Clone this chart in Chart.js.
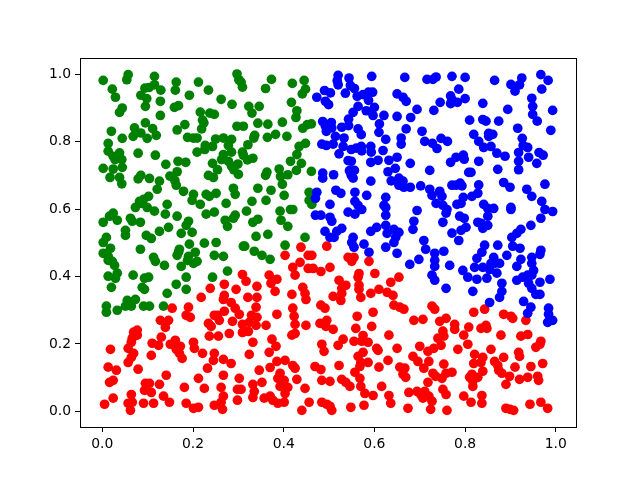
<!DOCTYPE html>
<html>
<head>
<meta charset="utf-8">
<script src="https://cdn.jsdelivr.net/npm/chart.js@4"></script>
<style>
html, body { margin: 0; padding: 0; background: #fff; }
canvas { display: block; }
</style>
</head>
<body>
<canvas id="scatterChart" width="640" height="480"></canvas>
<script>
const tickValues = [0, 0.2, 0.4, 0.6, 0.8, 1.0];

// values, the read-off was a hair out against the ticks
const readOffsetX = -0.002;
const readOffsetY = 0.001;

const greenPoints = [
[.004,.981],[.059,.998],[.056,.983],[.117,.993],[.024,.955],[.031,.931],[.165,.976],[.163,.952],[.214,.976],[.236,.952],
[.299,1.0],[.303,.983],[.308,.976],[.311,.961],[.117,.968],[.096,.958],[.105,.960],[.131,.952],[.087,.937],[.100,.927],
[.130,.919],[.097,.904],[.194,.937],[.264,.925],[.288,.910],[.046,.899],[.040,.886],[.170,.906],[.161,.901],[.130,.877],
[.218,.887],[.239,.884],[.249,.880],[.223,.863],[.226,.855],[.221,.837],[.097,.855],[.073,.840],[.113,.838],[.087,.825],
[.070,.815],[.121,.818],[.101,.809],[.022,.830],[.046,.809],[.015,.794],[.184,.850],[.167,.834],[.190,.812],[.203,.810],
[.211,.810],[.299,.845],[.313,.845],[.252,.807],[.269,.810],[.287,.806],[.280,.788],[.229,.788],[.245,.785],[.228,.776],
[.211,.768],[.015,.771],[.026,.756],[.040,.766],[.045,.746],[.030,.746],[.081,.765],[.119,.759],[.169,.741],[.186,.738],
[.142,.732],[.004,.720],[.026,.718],[.046,.723],[.269,.761],[.287,.768],[.311,.768],[.313,.759],[.265,.746],[.245,.735],
[.256,.716],[.280,.741],[.287,.726],[.301,.733],[.292,.716],[.302,.702],[.236,.699],[.247,.693],[.167,.710],[.151,.697],
[.162,.684],[.019,.693],[.040,.693],[.087,.699],[.081,.689],[.106,.690],[.128,.682],
[.375,.984],[.362,.957],[.421,.972],[.447,.981],[.450,.955],[.443,.941],[.419,.916],[.431,.891],[.429,.871],[.348,.904],
[.325,.904],[.332,.884],[.345,.854],[.367,.851],[.399,.857],[.463,.852],[.454,.850],[.444,.839],[.384,.821],[.366,.812],
[.409,.815],[.338,.818],[.336,.810],[.450,.794],[.436,.785],[.431,.761],[.323,.790],[.334,.750],[.322,.745],[.417,.741],
[.441,.735],[.430,.714],[.463,.711],[.392,.718],[.411,.701],[.365,.709],[.362,.699],[.395,.696],
[.345,.661],[.374,.655],[.399,.673],[.403,.640],[.332,.622],[.363,.625],[.458,.649],[.458,.625],[.464,.613],[.320,.593],
[.394,.593],[.417,.598],[.422,.598],[.396,.566],[.411,.548],[.345,.569],[.334,.560],[.341,.518],[.367,.524],[.405,.492],
[.449,.515],[.337,.474],[.354,.462],[.372,.450],[.316,.489],
[.045,.674],[.123,.658],[.165,.670],[.181,.652],[.203,.643],[.200,.625],[.218,.613],[.231,.643],[.238,.637],[.253,.646],
[.275,.616],[.291,.661],[.295,.643],[.104,.637],[.093,.628],[.084,.622],[.075,.604],[.089,.616],[.101,.604],[.117,.593],
[.145,.613],[.141,.584],[.167,.578],[.231,.584],[.249,.590],[.295,.581],[.291,.572],[.273,.566],[.278,.548],[.026,.587],
[.018,.578],[.035,.566],[.004,.560],[.064,.572],[.068,.563],[.086,.560],[.192,.563],[.187,.551],[.200,.530],[.176,.527],
[.053,.536],[.053,.521],[.011,.515],[.004,.500],[.099,.521],[.110,.512],[.128,.533],[.148,.545],[.194,.495],[.227,.498],
[.253,.500],[.313,.489],[.020,.483],[.004,.468],[.015,.459],[.015,.447],[.024,.444],[.029,.432],[.086,.480],[.172,.480],
[.170,.471],[.167,.462],[.207,.471],[.192,.459],[.190,.447],[.203,.438],[.211,.444],[.115,.456],[.119,.444],[.139,.432],
[.176,.429],[.249,.462],[.269,.459],[.278,.415],[.035,.409],[.015,.400],[.031,.394],[.070,.403],[.104,.397],[.095,.394],
[.187,.397],[.245,.397],[.022,.367],[.165,.376],[.090,.367],[.095,.361],[.187,.361],[.145,.349],[.057,.328],[.075,.331],
[.011,.311],[.011,.293],[.035,.299],[.053,.311],[.066,.311],[.093,.311],[.106,.311],[.137,.311]
];

const bluePoints = [
[.522,.996],[.520,.980],[.522,.968],[.546,.988],[.596,.993],[.669,.990],[.549,.966],[.558,.957],[.492,.951],[.505,.944],
[.475,.931],[.494,.919],[.501,.909],[.538,.943],[.564,.934],[.577,.939],[.589,.946],[.598,.946],[.589,.922],[.652,.941],
[.665,.931],[.672,.919],[.566,.904],[.555,.886],[.584,.891],[.602,.901],[.599,.877],[.623,.877],[.652,.874],[.545,.866],
[.488,.859],[.507,.856],[.494,.845],[.508,.840],[.496,.830],[.530,.842],[.545,.847],[.566,.837],[.573,.820],[.613,.852],
[.612,.827],[.672,.837],[.627,.806],[.661,.810],[.661,.792],[.516,.815],[.535,.810],[.486,.792],[.496,.788],[.511,.792],
[.533,.785],[.551,.776],[.562,.780],[.573,.785],[.574,.772],[.594,.785],[.595,.768],[.621,.773],[.524,.763],[.544,.743],
[.551,.741],[.594,.738],[.610,.744],[.634,.744],[.652,.753],[.648,.720],[.632,.710],[.547,.713],[.558,.714],[.551,.699],
[.555,.691],[.488,.706],[.488,.691],[.512,.701],[.594,.682],[.639,.683],[.656,.691],[.665,.682],
[.718,.984],[.731,.984],[.738,.991],[.773,.993],[.802,.990],[.788,.955],[.867,.981],[.903,.969],[.927,.988],[.922,.968],
[.912,.949],[.969,.998],[.985,.981],[.971,.955],[.770,.935],[.773,.924],[.770,.912],[.785,.916],[.802,.927],[.747,.916],
[.733,.892],[.696,.895],[.682,.871],[.841,.913],[.896,.895],[.949,.928],[.951,.904],[.951,.880],[.961,.860],[.995,.892],
[.812,.863],[.841,.865],[.848,.860],[.876,.860],[.918,.839],[.991,.833],[.707,.830],[.713,.800],[.730,.794],[.740,.779],
[.749,.809],[.763,.800],[.821,.821],[.832,.800],[.843,.782],[.854,.824],[.854,.815],[.863,.821],[.859,.785],[.872,.765],
[.890,.756],[.928,.809],[.930,.788],[.940,.782],[.920,.767],[.920,.741],[.920,.716],[.942,.753],[.965,.767],[.974,.759],
[.960,.735],[.782,.753],[.798,.759],[.800,.747],[.770,.738],[.832,.741],[.681,.735],[.724,.714],[.810,.708],[.815,.708],
[.874,.717],
[.704,.668],[.681,.664],[.724,.658],[.773,.670],[.782,.670],[.791,.676],[.795,.668],[.832,.671],[.887,.678],[.901,.664],
[.978,.673],[.938,.658],[.949,.637],[.971,.622],[.746,.652],[.751,.637],[.729,.640],[.738,.616],[.753,.610],[.762,.598],
[.760,.587],[.830,.646],[.817,.637],[.798,.634],[.793,.616],[.784,.613],[.843,.613],[.852,.601],[.865,.601],[.852,.578],
[.903,.604],[.903,.598],[.978,.598],[.995,.592],[.969,.572],[.947,.551],[.696,.595],[.689,.563],[.687,.539],[.753,.560],
[.790,.578],[.800,.572],[.804,.545],[.793,.536],[.773,.528],[.788,.506],[.830,.560],[.837,.557],[.841,.542],[.852,.551],
[.925,.539],[.916,.527],[.905,.515],[.907,.489],[.923,.483],[.711,.506],[.715,.480],[.735,.468],[.755,.474],[.735,.447],
[.735,.429],[.700,.450],[.680,.435],[.768,.432],[.845,.492],[.874,.492],[.839,.471],[.828,.453],[.894,.462],[.925,.450],
[.916,.429],[.969,.477],[.967,.465],[.949,.456],[.949,.438],[.865,.456],[.859,.438],[.867,.438],[.878,.438],[.841,.426],
[.823,.426],[.856,.420],[.872,.409],[.797,.417],[.808,.397],[.828,.391],[.850,.394],[.729,.403],[.735,.388],[.760,.364],
[.819,.355],[.883,.379],[.883,.355],[.878,.337],[.856,.322],[.916,.388],[.929,.397],[.940,.403],[.953,.417],[.949,.403],
[.942,.379],[.949,.364],[.958,.346],[.967,.346],[.967,.382],[.989,.391],[.931,.325],[.986,.305],[.986,.287],[.995,.269],
[.984,.263],[.947,.308],[.940,.290],
[.475,.649],[.472,.631],[.517,.655],[.528,.646],[.559,.649],[.585,.640],[.559,.622],[.504,.613],[.566,.610],[.574,.598],
[.544,.590],[.559,.584],[.627,.634],[.623,.610],[.627,.604],[.627,.581],[.472,.581],[.484,.581],[.504,.575],[.508,.563],
[.530,.542],[.519,.533],[.493,.533],[.504,.515],[.513,.515],[.607,.545],[.594,.533],[.627,.551],[.630,.527],[.645,.539],
[.656,.530],[.649,.515],[.645,.500],[.627,.486],[.652,.468],[.555,.515],[.552,.500],[.557,.486],[.579,.495],[.590,.471],
[.656,.670],[.667,.664]
];

const redPoints = [
[.440,.486],[.497,.489],[.405,.462],[.456,.462],[.464,.462],[.438,.441],[.422,.426],[.427,.403],[.456,.423],[.467,.423],
[.484,.414],[.504,.426],[.544,.456],[.557,.456],[.552,.444],[.590,.444],[.603,.408],[.568,.408],[.566,.397],[.656,.397],
[.638,.382],[.524,.388],[.539,.373],[.530,.364],[.568,.373],[.568,.361],[.612,.361],[.594,.349],[.630,.352],[.643,.343],
[.572,.337],[.530,.349],[.511,.340],[.528,.328],[.370,.403],[.387,.391],[.374,.379],[.383,.355],[.343,.370],[.319,.385],
[.323,.337],[.343,.337],[.420,.346],[.444,.367],[.449,.349],[.451,.331],
[.311,.405],[.271,.376],[.240,.364],[.297,.361],[.220,.337],[.271,.343],[.269,.331],[.286,.322],
[.156,.305],[.192,.308],[.187,.284],[.196,.278],[.130,.269],[.148,.269],[.141,.248],[.079,.240],[.071,.234],[.079,.225],
[.068,.216],[.066,.204],[.059,.186],[.071,.171],[.066,.159],[.059,.144],[.020,.183],[.132,.219],[.112,.201],[.126,.195],
[.110,.165],[.152,.198],[.163,.210],[.174,.192],[.165,.183],[.172,.171],[.178,.156],[.203,.204],[.205,.186],[.223,.171],
[.249,.171],[.247,.150],[.269,.153],[.286,.141],[.234,.127],[.015,.130],[.033,.121],[.081,.124],[.143,.106],[.214,.097],
[.269,.106],[.304,.097],[.018,.085],[.026,.091],[.097,.082],[.106,.082],[.128,.079],[.095,.061],[.110,.055],[.183,.070],
[.227,.067],[.264,.070],[.300,.064],[.308,.064],[.066,.049],[.137,.044],[.269,.044],[.026,.038],[.150,.026],[.300,.032],
[.007,.020],[.059,.023],[.068,.026],[.093,.023],[.115,.023],[.187,.023],[.264,.026],[.249,.017],[.064,.002],[.203,.008],
[.214,.011],[.267,.005],[.236,.260],[.242,.251],[.249,.284],[.256,.284],[.260,.269],[.271,.296],[.289,.266],[.295,.305],
[.304,.287],[.311,.257],[.311,.233],[.324,.236],[.282,.230],[.238,.222],[.258,.222],
[.341,.308],[.387,.287],[.422,.305],[.484,.314],[.493,.305],[.645,.314],[.658,.308],[.667,.302],[.331,.284],[.343,.278],
[.326,.263],[.341,.254],[.363,.254],[.425,.281],[.427,.257],[.451,.254],[.427,.230],[.420,.225],[.482,.260],[.497,.269],
[.495,.251],[.511,.242],[.564,.281],[.599,.293],[.596,.251],[.561,.245],[.634,.225],[.334,.204],[.376,.213],[.385,.192],
[.370,.174],[.326,.168],[.486,.198],[.491,.177],[.533,.213],[.522,.195],[.557,.207],[.577,.224],[.574,.207],[.588,.204],
[.577,.174],[.566,.162],[.607,.186],[.610,.180],[.652,.186],[.588,.144],[.572,.144],[.570,.132],[.632,.150],[.612,.130],
[.524,.135],[.387,.147],[.405,.150],[.422,.135],[.372,.129],[.427,.127],[.348,.121],[.471,.132],[.484,.123],[.559,.115],
[.658,.130],[.669,.127],[.665,.109],[.671,.100],[.394,.112],[.389,.097],[.403,.091],[.431,.094],[.530,.094],[.539,.085],
[.548,.073],[.486,.091],[.504,.088],[.570,.097],[.572,.073],[.618,.073],[.354,.085],[.334,.079],[.394,.073],[.411,.070],
[.449,.067],[.337,.058],[.405,.052],[.581,.052],[.599,.046],[.634,.046],[.678,.055],[.334,.040],[.359,.038],[.372,.044],
[.378,.032],[.389,.023],[.403,.026],[.458,.026],[.486,.026],[.497,.020],[.504,.014],[.508,.002],[.579,.017],[.550,.011],
[.638,.023],[.442,.002],[.676,.008],
[.729,.311],[.735,.302],[.821,.293],[.845,.302],[.887,.287],[.903,.281],[.907,.275],[.936,.269],[.689,.269],[.709,.272],
[.746,.266],[.760,.275],[.779,.257],[.779,.242],[.810,.249],[.837,.245],[.848,.254],[.850,.245],[.799,.225],[.881,.225],
[.925,.222],[.940,.227],[.753,.237],[.755,.222],[.742,.216],[.749,.195],[.733,.186],[.720,.177],[.702,.192],[.808,.198],
[.786,.183],[.859,.183],[.969,.207],[.967,.198],[.958,.189],[.823,.168],[.841,.159],[.920,.174],[.922,.162],[.887,.159],
[.687,.162],[.698,.147],[.722,.147],[.711,.127],[.755,.139],[.821,.141],[.837,.144],[.867,.147],[.874,.135],[.876,.121],
[.883,.112],[.912,.130],[.947,.132],[.973,.141],[.841,.118],[.731,.112],[.737,.103],[.751,.097],[.760,.112],[.773,.115],
[.817,.109],[.812,.100],[.830,.100],[.819,.088],[.819,.073],[.900,.103],[.922,.094],[.940,.100],[.962,.103],[.964,.091],
[.892,.079],[.720,.085],[.753,.064],[.760,.049],[.696,.058],[.713,.058],[.704,.049],[.709,.038],[.722,.044],[.729,.029],
[.799,.044],[.839,.046],[.815,.026],[.839,.023],[.945,.020],[.969,.026],[.984,.008],[.892,.008],[.901,.005],[.909,.002],
[.726,.005],[.762,.002]
];

function toXY(points) {
    return points.map(p => ({ x: p[0] + readOffsetX, y: p[1] + readOffsetY }));
}

function makeDataset(points, color) {
    return {
        data: toXY(points),
        backgroundColor: color,
        borderWidth: 0,
        pointRadius: 4.85,
        pointHoverRadius: 4.85
    };
}

// top and right spines, the axes only draw their own side
const frame = {
    id: 'frame',
    afterDraw(chart) {
        const a = chart.chartArea;
        const c = chart.ctx;
        c.save();
        c.strokeStyle = '#000';
        c.lineWidth = 1;
        c.strokeRect(a.left + 0.5, a.top + 0.5, a.right - a.left, a.bottom - a.top);
        c.restore();
    }
};

function setTicks(scale) {
    scale.ticks = tickValues.map(v => ({ value: v }));
}

const tickStyle = {
    color: '#000',
    padding: 4,
    maxRotation: 0,
    font: { family: '"DejaVu Sans"', size: 13.9 },
    callback: v => v.toFixed(1)
};
const gridStyle = {
    drawOnChartArea: false,
    color: '#000',
    tickColor: '#000',
    tickLength: 5,
    tickWidth: 1
};

new Chart(document.getElementById('scatterChart').getContext('2d'), {
    type: 'scatter',
    data: {
        datasets: [
            makeDataset(bluePoints, '#0000ff'),
            makeDataset(redPoints, '#ff0000'),
            makeDataset(greenPoints, '#008000')
        ]
    },
    options: {
        responsive: false,
        devicePixelRatio: 1,
        animation: false,
        layout: { padding: { top: 58, right: 64, left: 0, bottom: 0 } },
        plugins: { legend: { display: false }, tooltip: { enabled: false } },
        scales: {
            x: {
                min: -0.0492,
                max: 1.0445,
                afterBuildTicks: setTicks,
                afterFit: s => { s.height = 53; },
                ticks: tickStyle,
                grid: gridStyle,
                border: { display: false }
            },
            y: {
                min: -0.0465,
                max: 1.0485,
                afterBuildTicks: setTicks,
                afterFit: s => { s.width = 80; },
                ticks: tickStyle,
                grid: gridStyle,
                border: { display: false }
            }
        }
    },
    plugins: [frame]
});
</script>
</body>
</html>
